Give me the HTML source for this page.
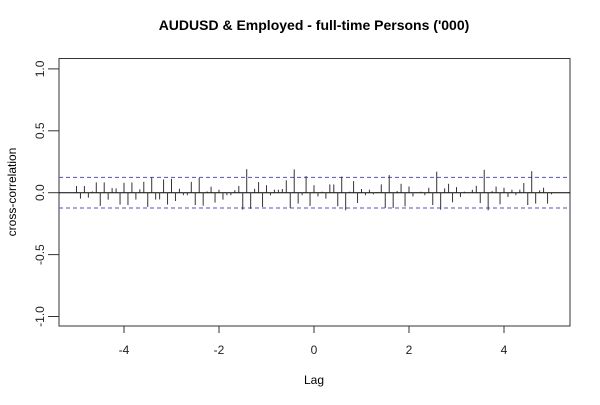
<!DOCTYPE html>
<html><head><meta charset="utf-8"><style>
body{margin:0;background:#fff;font-family:"Liberation Sans",Arial,sans-serif}
</style></head><body>
<svg width="600" height="400" xmlns="http://www.w3.org/2000/svg" font-family="Liberation Sans, Arial, sans-serif">
<text x="314" y="30" text-anchor="middle" font-size="14" font-weight="bold">AUDUSD &amp; Employed - full-time Persons ('000)</text>
<rect x="59" y="58.5" width="511" height="267.5" fill="none" stroke="#333" stroke-width="1"/>
<g id="yaxis"></g><g id="xaxis"></g><g id="marks"></g>
<text x="314" y="384" text-anchor="middle" font-size="12">Lag</text>
<text transform="translate(16,192) rotate(-90)" text-anchor="middle" font-size="12">cross-correlation</text>
</svg>
<script>
const yTicks=[-1.0,-0.5,0.0,0.5,1.0];
const yTickLabels=["-1.0","-0.5","0.0","0.5","1.0"];
const xTicks=[-4,-2,0,2,4];
const xTickLabels=["-4","-2","0","2","4"];
const lagStart=-5, lagStep=1/12;
const confLimit=0.124;
const ccfValues=[0.054,-0.048,0.054,-0.04,0.01,0.083,-0.107,0.083,-0.056,0.037,0.035,-0.096,0.08,-0.1,0.083,-0.056,0.027,0.088,-0.115,0.123,-0.056,-0.054,0.107,-0.096,0.113,-0.067,0.032,-0.02,-0.02,0.088,-0.1,0.12,-0.105,0.01,0.048,-0.08,0.024,-0.056,-0.02,-0.02,0.02,
0.054,-0.137,0.19,-0.13,0.032,0.086,-0.115,0.06,-0.02,0.024,0.024,0.03,0.1,-0.123,0.188,-0.088,-0.02,0.134,-0.107,0.06,-0.03,0.008,-0.048,0.067,0.067,-0.11,0.13,-0.142,0.008,0.094,-0.083,0.03,-0.02,0.024,-0.013,0.005,0.067,-0.123,0.142,-0.123,0.013,
0.072,-0.11,0.05,-0.03,0.003,0.008,-0.02,0.04,-0.1,0.17,-0.137,0.035,0.072,-0.078,0.045,-0.035,0.008,0.003,0.024,0.056,-0.083,0.185,-0.142,0.013,0.05,-0.094,0.04,-0.035,0.024,-0.02,0.024,0.078,-0.1,0.174,-0.088,0.019,0.04,-0.088,-0.013];
const NS="http://www.w3.org/2000/svg";
const X=v=>314+v*47.5, Y=v=>192.7-v*123.8;
function mk(t,a,p){const e=document.createElementNS(NS,t);for(const k in a)e.setAttribute(k,a[k]);p.appendChild(e);return e;}
const ya=document.getElementById('yaxis'),xa=document.getElementById('xaxis'),mg=document.getElementById('marks');
yTicks.forEach((v,i)=>{
 const l=mk('line',{x1:48,x2:59,y1:Y(v),y2:Y(v),stroke:'#333'},ya);
 
 
 const t=mk('text',{transform:`translate(44,${Y(v)}) rotate(-90)`,'text-anchor':'middle','font-size':12,fill:'#222'},ya);
 t.textContent=yTickLabels[i];
 
 
});
xTicks.forEach((v,i)=>{
 const l=mk('line',{x1:X(v),x2:X(v),y1:326,y2:333,stroke:'#333'},xa);
 
 
 const t=mk('text',{x:X(v),y:354,'text-anchor':'middle','font-size':12,fill:'#222'},xa);
 t.textContent=xTickLabels[i];
 
 
});
const z=mk('line',{x1:59,x2:570,y1:Y(0),y2:Y(0),stroke:'#000'},mg);


[confLimit,-confLimit].forEach(c=>{
 const d=mk('line',{x1:59,x2:570,y1:Y(c),y2:Y(c),stroke:'#5050c0','stroke-dasharray':'4,3'},mg);
 
 
});
ccfValues.forEach((v,i)=>{
 const lag=lagStart+i*lagStep;
 const b=mk('line',{x1:X(lag),x2:X(lag),y1:Y(0),y2:Y(v),stroke:'#333'},mg);
 
 
});
</script>
</body></html>
